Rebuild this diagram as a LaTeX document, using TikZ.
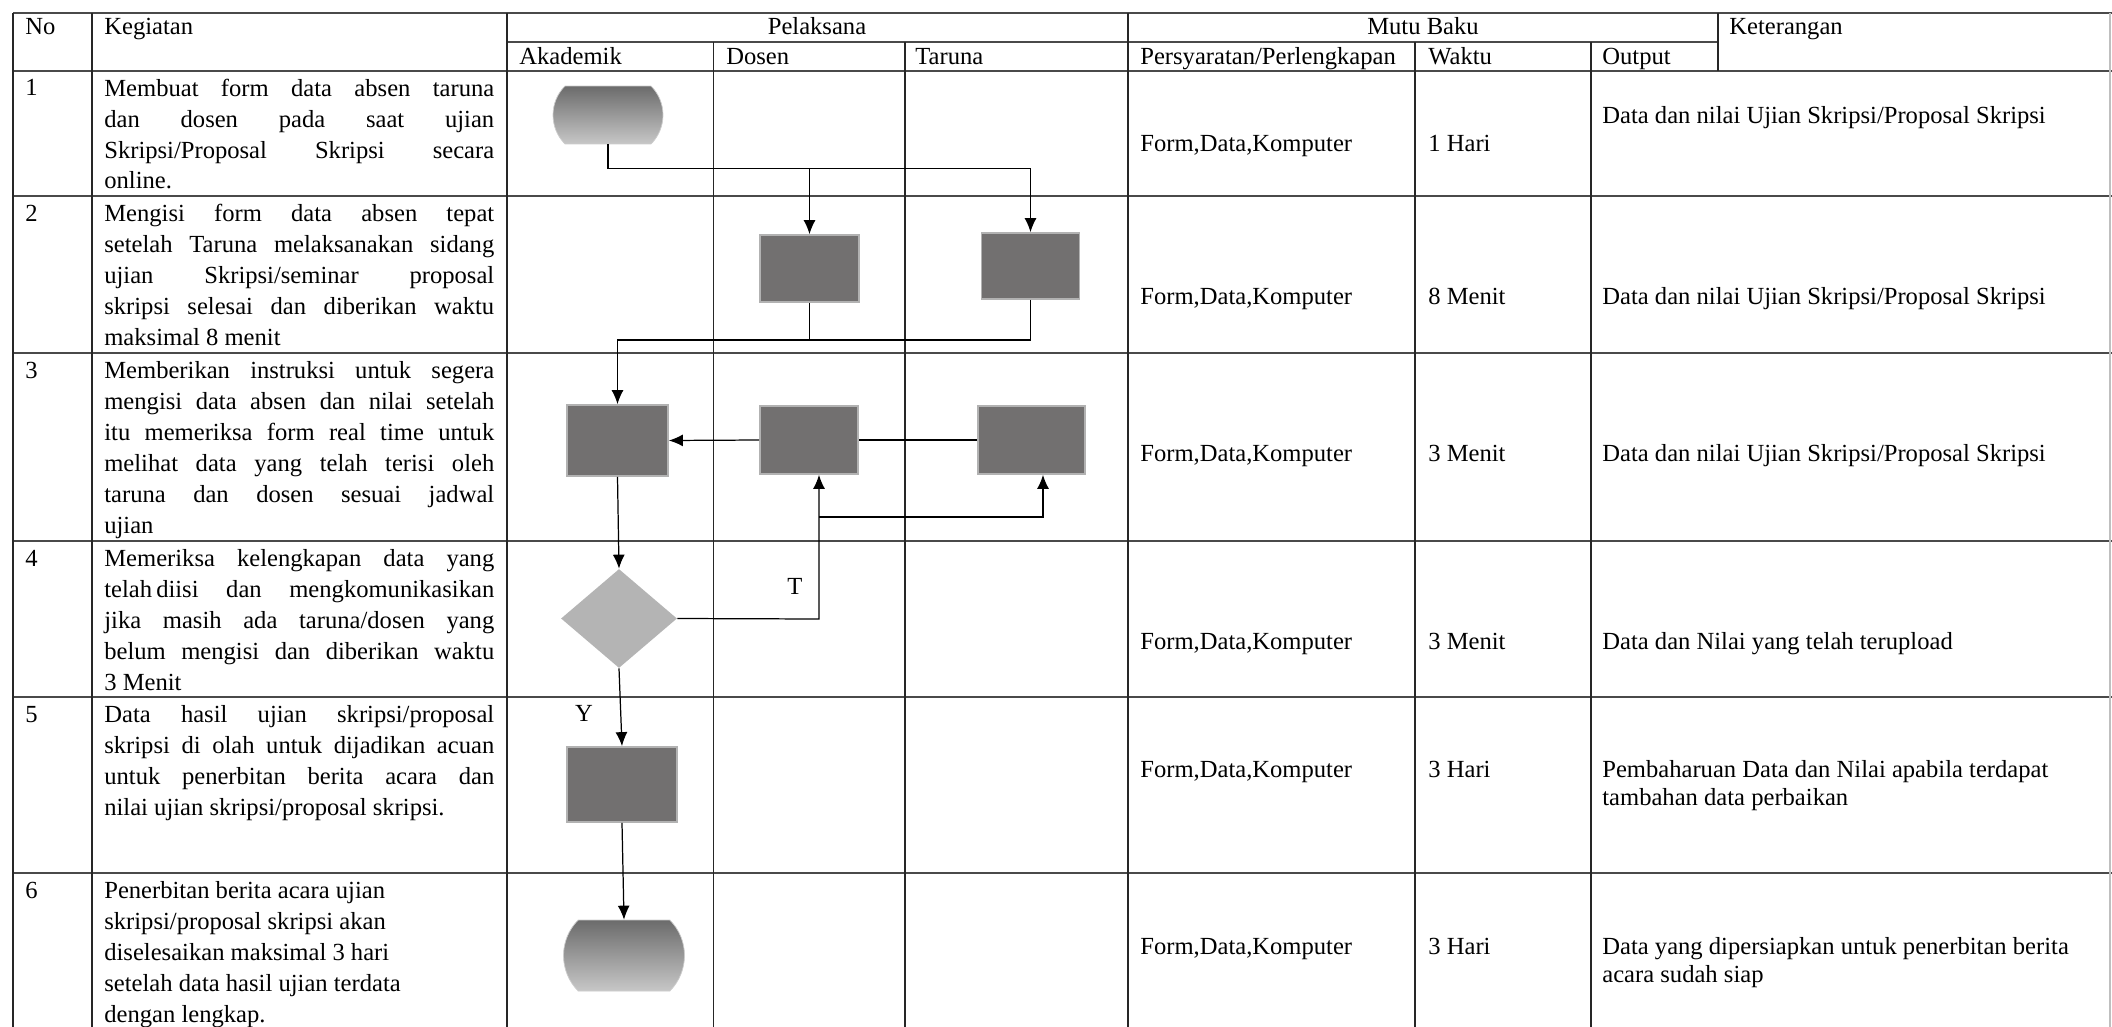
\documentclass[tikz,border=0pt]{standalone}
\usepackage{fontspec}
\setmainfont{Liberation Serif}
\usepackage{tikz}
\usetikzlibrary{arrows.meta}
\usetikzlibrary{shapes.geometric}
\usetikzlibrary{shapes.misc}
\definecolor{proses}{HTML}{727070}
\definecolor{garis}{HTML}{4A4A4A}
\definecolor{belah}{HTML}{B4B4B4}
\newcommand{\rata}[1]{\makebox[7.8cm][s]{#1}}

\begin{document}
\begin{tikzpicture}[x=0.02cm,y=-0.02cm,>={Latex[length=0.28cm,width=0.24cm]},
	every node/.style={font=\fontsize{14}{17.6}\selectfont},
	teks/.style={anchor=base west,align=left,inner sep=0pt},
	ket2/.style={anchor=base west,align=left,inner sep=0pt,font=\fontsize{14}{16.2}\selectfont},
	kotak/.style={draw=black!30,line width=1pt,fill=proses,inner sep=0pt},
	terminal/.style={rounded rectangle,rounded rectangle arc length=90,draw=black!20,top color=black!58,bottom color=black!22,inner sep=0pt},
	keputusan/.style={diamond,fill=belah,inner sep=0pt},
	alur/.style={line width=0.7pt},
	hgaris/.style={draw=garis,line width=1.1pt},
	vgaris/.style={draw=black!85,line width=0.7pt}]
	\useasboundingbox[fill=white] (0,0) rectangle (2112,1027);
	\draw[hgaris] (13,13) -- (2112,13);
	\draw[hgaris] (507,42) -- (1718,42);
	\foreach \y in {71,196,353,541,697,873}
		\draw[hgaris] (13,\y) -- (2112,\y);
	\foreach \x in {13,92,507,1128}
		\draw[vgaris] (\x,13) -- (\x,1027);
	\foreach \x in {713.5,905,1415,1591}
		\draw[vgaris] (\x,42) -- (\x,1027);
	\draw[vgaris] (1718,13) -- (1718,71);
	\draw[draw=black!25,line width=0.7pt] (2110,13) -- (2110,1027);

	\node[teks] (hno) at (25,35) {No};
	\node[teks] (hkeg) at (104,35) {Kegiatan};
	\node[anchor=base,inner sep=0pt] (hpel) at (817,35) {Pelaksana};
	\node[anchor=base,inner sep=0pt] (hmutu) at (1423,35) {Mutu Baku};
	\node[teks] (hket) at (1729,35) {Keterangan};
	\node[teks] (hakad) at (519,65) {Akademik};
	\node[teks] (hdosen) at (726,65) {Dosen};
	\node[teks] (htaruna) at (915,65) {Taruna};
	\node[teks] (hsyarat) at (1140,65) {Persyaratan/Perlengkapan};
	\node[teks] (hwaktu) at (1428,65) {Waktu};
	\node[teks] (houtput) at (1602,65) {Output};

	\foreach \y [count=\i] in {96,221,378,566,722,898}
		\node[teks] (no\i) at (25,\y) {\i};
	\node[teks] (keg1) at (104,189) {\rata{Membuat form data absen taruna}\\\rata{dan dosen pada saat ujian}\\\rata{Skripsi/Proposal Skripsi secara}\\online.};
	\node[teks] (keg2) at (104,345) {\rata{Mengisi form data absen tepat}\\\rata{setelah Taruna melaksanakan sidang}\\\rata{ujian Skripsi/seminar proposal}\\\rata{skripsi selesai dan diberikan waktu}\\maksimal 8 menit};
	\node[teks] (keg3) at (104,533) {\rata{Memberikan instruksi untuk segera}\\\rata{mengisi data absen dan nilai setelah}\\\rata{itu memeriksa form real time untuk}\\\rata{melihat data yang telah terisi oleh}\\\rata{taruna dan dosen sesuai jadwal}\\ujian};
	\node[teks] (keg4) at (104,690) {\rata{Memeriksa kelengkapan data yang}\\\rata{telah\,diisi dan mengkomunikasikan}\\\rata{jika masih ada taruna/dosen yang}\\\rata{belum mengisi dan diberikan waktu}\\3 Menit};
	\node[teks] (keg5) at (104,815) {\rata{Data hasil ujian skripsi/proposal}\\\rata{skripsi di olah untuk dijadikan acuan}\\\rata{untuk penerbitan berita acara dan}\\nilai ujian skripsi/proposal skripsi.};
	\node[teks] (keg6) at (104,1022) {Penerbitan berita acara ujian\\skripsi/proposal skripsi akan\\diselesaikan maksimal 3 hari\\setelah data hasil ujian terdata\\dengan lengkap.};

	\foreach \y/\w [count=\i] in {152/1 Hari,304/8 Menit,461/3 Menit,649/3 Menit,777/3 Hari,954/3 Hari}{
		\node[teks] (syarat\i) at (1140,\y) {Form,Data,Komputer};
		\node[teks] (waktu\i) at (1428,\y) {\w};
	}
	\node[teks] (ket1) at (1602,124) {Data dan nilai Ujian Skripsi/Proposal Skripsi};
	\node[teks] (ket2) at (1602,304) {Data dan nilai Ujian Skripsi/Proposal Skripsi};
	\node[teks] (ket3) at (1602,461) {Data dan nilai Ujian Skripsi/Proposal Skripsi};
	\node[teks] (ket4) at (1602,649) {Data dan Nilai yang telah terupload};
	\node[ket2] (ket5) at (1602,805.5) {Pembaharuan Data dan Nilai apabila terdapat\\tambahan data perbaikan};
	\node[ket2] (ket6) at (1602,982.5) {Data yang dipersiapkan untuk penerbitan berita\\acara sudah siap};

	\node[terminal,minimum width=2.2cm,minimum height=1.16cm] (mulai) at (608,115) {};
	\node[kotak,minimum width=1.98cm,minimum height=1.34cm] (dosen2) at (809.5,268.5) {};
	\node[kotak,minimum width=1.96cm,minimum height=1.32cm] (taruna2) at (1030.5,266) {};
	\node[kotak,minimum width=2.02cm,minimum height=1.42cm] (akad3) at (617.5,440.5) {};
	\node[kotak,minimum width=1.96cm,minimum height=1.36cm] (dosen3) at (809,440) {};
	\node[kotak,minimum width=2.14cm,minimum height=1.36cm] (taruna3) at (1031.5,440) {};
	\node[keputusan,minimum width=2.32cm,minimum height=1.98cm] (cek) at (619,618.5) {};
	\node[kotak,minimum width=2.2cm,minimum height=1.5cm] (akad5) at (622,784.5) {};
	\node[terminal,minimum width=2.42cm,minimum height=1.42cm] (selesai) at (624,955.5) {};
	\node[inner sep=0pt] (labelT) at (795,586) {T};
	\node[inner sep=0pt] (labelY) at (584,713) {Y};

	\coordinate (cabang1) at (809.5,168);
	\coordinate (gabung2) at (809.5,340);
	\coordinate (belokT) at (819,619);
	\coordinate (cabangT) at (819,517);
	\coordinate (belokT2) at (1043,517);
	\draw[alur,->] (mulai.south) -- ++(0,24) -| (taruna2.north);
	\draw[alur,->] (cabang1) -- (dosen2.north);
	\draw[alur] (dosen2.south) -- (gabung2);
	\draw[alur,->] (taruna2.south) |- (gabung2) -| (akad3.north);
	\draw[alur] (taruna3.west) -- (dosen3.east);
	\draw[alur,->] (dosen3.west) -- (akad3.east);
	\draw[alur,->] (akad3.south) -- (cek.north);
	\draw[alur,->] (cek.east) -- (belokT) -- (belokT |- dosen3.south);
	\draw[alur,->] (cabangT) -- (belokT2) -- (belokT2 |- taruna3.south);
	\draw[alur,->] (cek.south) -- (akad5.north);
	\draw[alur,->] (akad5.south) -- (selesai.north);
\end{tikzpicture}
\end{document}
